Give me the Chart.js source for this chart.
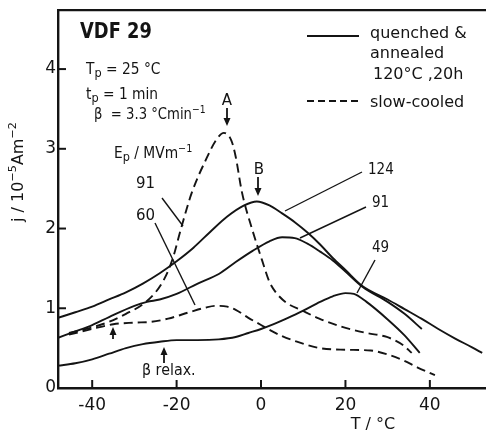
<!DOCTYPE html>
<html>
<head>
<meta charset="utf-8">
<script src="https://cdn.jsdelivr.net/npm/chart.js@4.4.1/dist/chart.umd.min.js"></script>
<style>
  html, body { margin: 0; padding: 0; background: #fff; }
  #wrap { width: 486px; height: 432px; }
</style>
</head>
<body>
<div id="wrap"><canvas id="c" width="486" height="432"></canvas></div>
<script>
// ── Data (T in °C, j in 10^-5 A m^-2) ─────────────────────────────────────
const xTicks = [-40, -20, 0, 20, 40];
const yTicks = [0, 1, 2, 3, 4];

// quenched & annealed (solid), Ep = 124, 91, 49 MV/m
const tQ124 = [-48.1, -44, -40, -36, -32, -28, -24, -20, -16, -12, -8, -4, -1, 2, 5, 8, 11, 14, 17, 20, 24, 30, 34, 38, 42, 46, 50, 52.4];
const jQ124 = [0.88, 0.95, 1.02, 1.11, 1.20, 1.31, 1.44, 1.59, 1.76, 1.96, 2.15, 2.29, 2.34, 2.29, 2.19, 2.08, 1.95, 1.80, 1.63, 1.48, 1.28, 1.11, 0.99, 0.87, 0.74, 0.62, 0.51, 0.44];

const tQ91 = [-48.1, -44, -40, -36, -30, -27, -24, -20, -15, -10, -6, -2, 2, 5, 8, 11, 14, 17, 20, 24, 30, 34, 38.1];
const jQ91 = [0.63, 0.71, 0.79, 0.89, 1.03, 1.08, 1.11, 1.18, 1.31, 1.43, 1.58, 1.72, 1.84, 1.89, 1.88, 1.81, 1.71, 1.60, 1.46, 1.27, 1.08, 0.93, 0.74];

const tQ49 = [-48.1, -44, -40, -36, -32, -28, -24, -20, -15, -10, -6, -3, 0, 3, 6, 10, 14, 17, 20, 22, 25, 30, 34, 37.6];
const jQ49 = [0.28, 0.31, 0.36, 0.43, 0.50, 0.55, 0.58, 0.60, 0.60, 0.61, 0.64, 0.69, 0.74, 0.80, 0.87, 0.97, 1.08, 1.15, 1.19, 1.18, 1.08, 0.86, 0.66, 0.44];

// slow-cooled (dashed), Ep = 91, 60 MV/m
const tS91 = [-45.5, -40, -36, -32, -28, -25, -23, -21, -18.8, -16.4, -13, -10.5, -8.8, -7, -6, -4.5, -2.1, 0.2, 2, 3.5, 6, 9.8, 13.8, 19, 25, 29.8, 33.6, 35.7];
const jS91 = [0.69, 0.76, 0.83, 0.93, 1.05, 1.20, 1.36, 1.61, 2.03, 2.45, 2.87, 3.12, 3.20, 3.10, 2.90, 2.45, 1.99, 1.61, 1.33, 1.20, 1.07, 0.97, 0.87, 0.77, 0.69, 0.64, 0.54, 0.44];

const tS60 = [-45.5, -40, -35, -30, -26, -22, -17, -13, -10.7, -8, -6, -3, -1, 2, 5, 8, 14, 20, 26, 30, 33.6, 37, 41.2];
const jS60 = [0.67, 0.74, 0.80, 0.82, 0.83, 0.87, 0.95, 1.01, 1.03, 1.02, 0.98, 0.88, 0.82, 0.73, 0.65, 0.59, 0.50, 0.48, 0.47, 0.42, 0.35, 0.26, 0.16];

// ── Styling ────────────────────────────────────────────────────────────────
const INK = '#141414';
const FONT = "'DejaVu Sans', sans-serif";

function pts(ts, js) {
  return ts.map((t, i) => ({ x: t, y: js[i] }));
}

function curve(ts, js, dashed) {
  return {
    data: pts(ts, js),
    borderColor: INK,
    borderWidth: 1.9,
    borderDash: dashed ? [9, 5] : [],
    pointRadius: 0,
    fill: false,
    cubicInterpolationMode: 'monotone',
  };
}

// text with sub/superscript parts: [[text, 'sub'|'sup'|null], ...]
function rich(ctx, x, y, parts, size, o = {}) {
  const bold = o.bold ? 'bold ' : '';
  const sizeOf = (p) => p[1] === 'sub' ? size * 0.82 : p[1] ? size * 0.7 : size;
  ctx.save();
  ctx.translate(x, y);
  if (o.rot) ctx.rotate(o.rot);
  if (o.sx) ctx.scale(o.sx, 1);
  const total = parts.reduce((a, p) => {
    ctx.font = bold + sizeOf(p) + 'px ' + FONT;
    return a + ctx.measureText(p[0]).width;
  }, 0);
  let cx = o.align === 'center' ? -total / 2 : 0;
  ctx.fillStyle = INK;
  ctx.textBaseline = 'alphabetic';
  ctx.textAlign = 'left';
  for (const p of parts) {
    const dy = p[1] === 'sub' ? size * 0.22 : p[1] === 'sup' ? -size * 0.42 : 0;
    ctx.font = bold + sizeOf(p) + 'px ' + FONT;
    ctx.fillText(p[0], cx, dy);
    cx += ctx.measureText(p[0]).width;
  }
  ctx.restore();
}

function seg(ctx, x1, y1, x2, y2, w) {
  ctx.beginPath();
  ctx.lineWidth = w || 1.4;
  ctx.moveTo(x1, y1);
  ctx.lineTo(x2, y2);
  ctx.stroke();
}

// vertical arrow, head at yHead
function arrow(ctx, x, yTail, yHead) {
  const dir = yHead > yTail ? 1 : -1;
  seg(ctx, x, yTail, x, yHead - dir * 2, 1.8);
  ctx.beginPath();
  ctx.moveTo(x, yHead);
  ctx.lineTo(x - 3.5, yHead - dir * 8);
  ctx.lineTo(x + 3.5, yHead - dir * 8);
  ctx.closePath();
  ctx.fill();
}

const decorations = {
  id: 'decorations',
  afterDraw(chart) {
    const { ctx, chartArea: a, scales } = chart;
    const xs = scales.x, ys = scales.y;
    ctx.save();
    ctx.strokeStyle = INK;
    ctx.fillStyle = INK;

    // top frame line
    seg(ctx, a.left - 1, a.top, a.right, a.top, 2.2);

    // inward ticks
    xTicks.forEach(v => { const px = xs.getPixelForValue(v); seg(ctx, px, a.bottom, px, a.bottom - 8, 2); });
    yTicks.forEach(v => { const py = ys.getPixelForValue(v); seg(ctx, a.left, py, a.left + 8, py, 2); });

    // axis titles
    rich(ctx, 373, 429, [['T / °C']], 16, { align: 'center' });
    rich(ctx, 23, 172, [['j / 10'], ['−5', 'sup'], ['Am'], ['−2', 'sup']], 16, { align: 'center', rot: -Math.PI / 2 });

    // header block
    rich(ctx, 80, 38, [['VDF 29']], 21, { bold: true, sx: 0.85 });
    rich(ctx, 86, 74, [['T'], ['p', 'sub'], [' = 25 °C']], 15, { sx: 0.92 });
    rich(ctx, 86, 99, [['t'], ['p', 'sub'], [' = 1 min']], 15, { sx: 0.92 });
    rich(ctx, 94, 119, [['β  = 3.3 °Cmin'], ['−1', 'sup']], 15, { sx: 0.88 });
    rich(ctx, 114, 158, [['E'], ['p', 'sub'], [' / MVm'], ['−1', 'sup']], 15, { sx: 0.92 });

    // legend
    seg(ctx, 307, 36, 359, 36, 1.9);
    ctx.setLineDash([7, 4]);
    seg(ctx, 307, 101, 359, 101, 1.9);
    ctx.setLineDash([]);
    rich(ctx, 370, 38, [['quenched &']], 16);
    rich(ctx, 370, 58, [['annealed']], 16);
    rich(ctx, 373, 79, [['120°C ,20h']], 16);
    rich(ctx, 370, 107, [['slow-cooled']], 16);

    // peak markers
    rich(ctx, 227, 105, [['A']], 15, { align: 'center' });
    arrow(ctx, 227, 108, 126);
    rich(ctx, 259, 174, [['B']], 15, { align: 'center' });
    arrow(ctx, 258, 177, 196);

    // curve labels and leaders
    rich(ctx, 136, 188, [['91']], 15);
    seg(ctx, 162, 198, 183, 226);
    rich(ctx, 136, 220, [['60']], 15);
    seg(ctx, 155, 223, 195, 305);
    rich(ctx, 368, 174, [['124']], 15, { sx: 0.9 });
    seg(ctx, 362, 172, 285, 211);
    rich(ctx, 372, 207, [['91']], 15, { sx: 0.9 });
    seg(ctx, 366, 207, 300, 238);
    rich(ctx, 372, 252, [['49']], 15, { sx: 0.9 });
    seg(ctx, 375, 260, 357, 293);

    // relaxation markers
    arrow(ctx, 113, 339, 327);
    arrow(ctx, 164, 363, 347);
    rich(ctx, 142, 375, [['β relax.']], 15, { sx: 0.95 });

    ctx.restore();
  }
};

// ── Chart ──────────────────────────────────────────────────────────────────
new Chart(document.getElementById('c'), {
  type: 'line',
  data: {
    datasets: [
      curve(tQ124, jQ124, false),
      curve(tQ91, jQ91, false),
      curve(tQ49, jQ49, false),
      curve(tS91, jS91, true),
      curve(tS60, jS60, true),
    ],
  },
  options: {
    responsive: false,
    animation: false,
    devicePixelRatio: 1,
    layout: { padding: { top: 10, right: 0, left: 0, bottom: 0 } },
    plugins: { legend: { display: false }, tooltip: { enabled: false } },
    scales: {
      x: {
        type: 'linear',
        min: -48.1,
        max: 53.3,
        afterBuildTicks: (s) => { s.ticks = xTicks.map(v => ({ value: v })); },
        afterFit: (s) => { s.height = 44; },
        grid: { display: false, drawTicks: false },
        border: { display: true, color: INK, width: 2.4 },
        ticks: { color: INK, font: { family: FONT, size: 17 }, padding: 7, maxRotation: 0 },
      },
      y: {
        type: 'linear',
        min: 0,
        max: 4.74,
        afterBuildTicks: (s) => { s.ticks = yTicks.map(v => ({ value: v })); },
        afterFit: (s) => { s.width = 58; },
        grid: { display: false, drawTicks: false },
        border: { display: true, color: INK, width: 2.4 },
        ticks: { color: INK, font: { family: FONT, size: 17, lineHeight: 0.95 }, padding: 2 },
      },
    },
  },
  plugins: [decorations],
});
</script>
</body>
</html>
